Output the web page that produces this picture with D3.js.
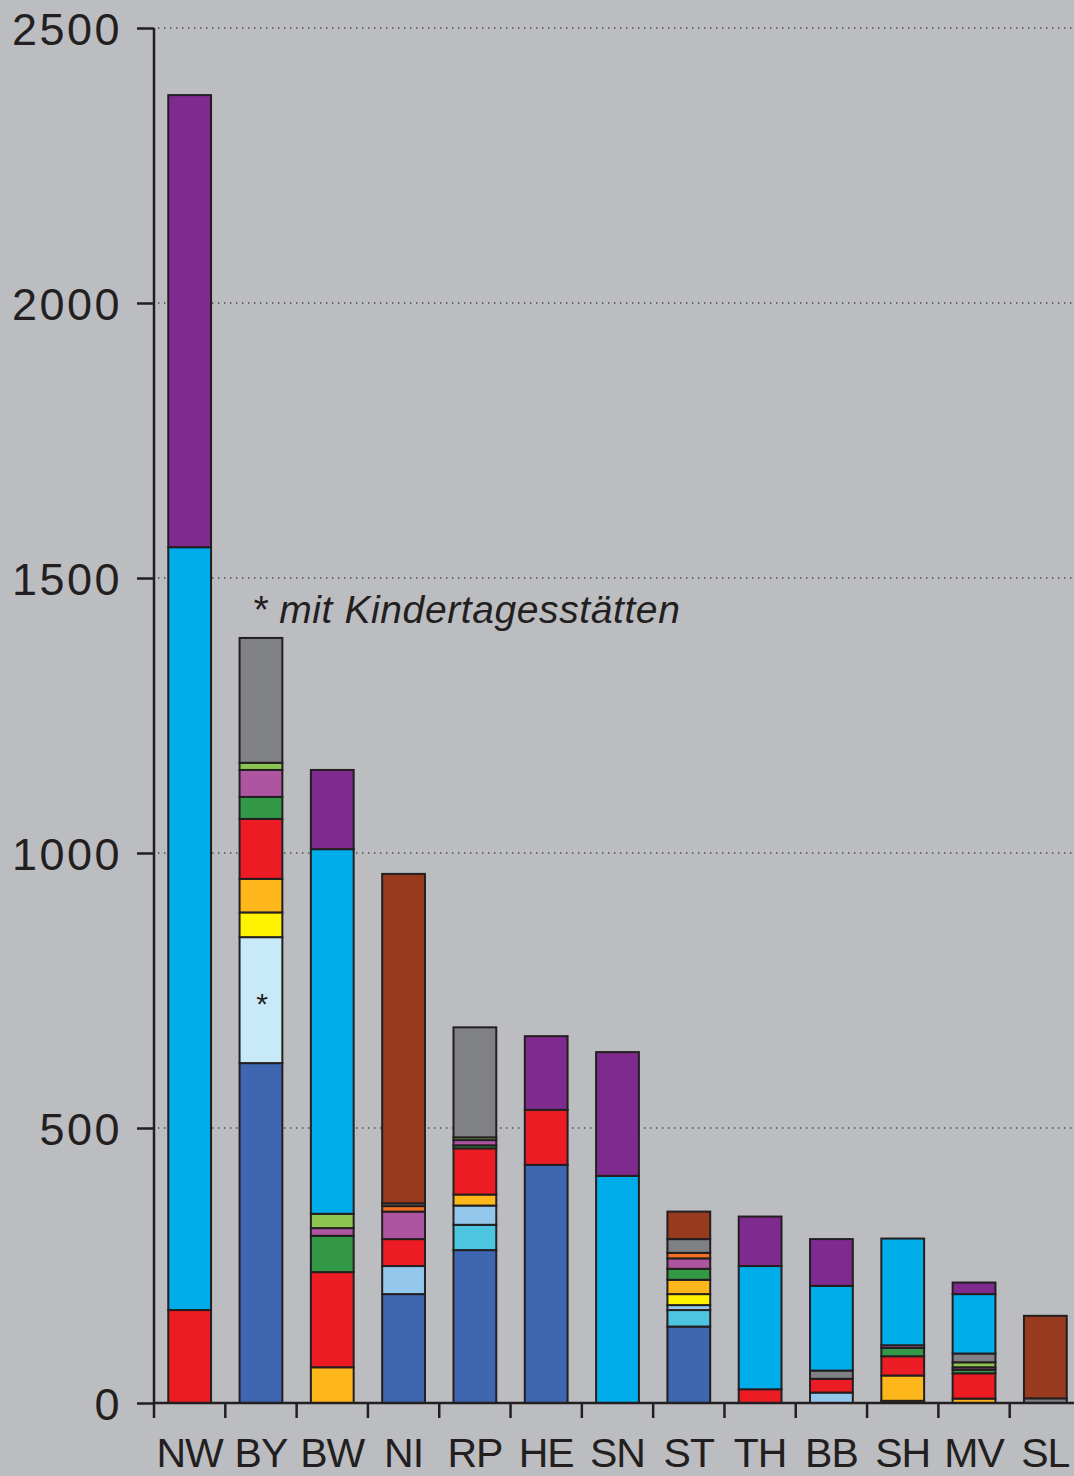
<!DOCTYPE html>
<html><head><meta charset="utf-8">
<script src="https://cdn.jsdelivr.net/npm/d3@7"></script>
<style>
html,body{margin:0;padding:0;background:#bcbdc1;}
svg{display:block;}
text{font-family:"Liberation Sans",Arial,Helvetica,sans-serif;fill:#231f20;}
</style></head>
<body>
<svg id="chart" width="1074" height="1476"></svg>
<script>
const categories = ["NW","BY","BW","NI","RP","HE","SN","ST","TH","BB","SH","MV","SL"];
const yTicks = [0, 500, 1000, 1500, 2000, 2500];
// series values, stacked from bottom in this order
const darkblue   = [0, 618, 0, 198, 278, 433, 0, 139, 0, 0, 0, 0, 0];
const kita       = [0, 229, 0, 0, 0, 0, 0, 0, 0, 0, 0, 0, 0];
const cyanlight  = [0, 0, 0, 0, 46, 0, 0, 30, 0, 0, 0, 0, 0];
const lightblue  = [0, 0, 0, 51, 35, 0, 0, 9, 0, 19, 0, 0, 0];
const yellow     = [0, 45, 0, 0, 0, 0, 0, 20, 0, 0, 4, 0, 0];
const amber      = [0, 61, 65, 0, 20, 0, 0, 26, 0, 0, 46, 8, 0];
const red        = [169, 109, 173, 49, 84, 100, 0, 0, 25, 25, 35, 46, 0];
const green      = [0, 40, 66, 0, 5.5, 0, 0, 20, 0, 0, 15, 6.5, 0];
const pink       = [0, 49, 14, 50, 9.5, 0, 0, 19, 0, 0, 5, 4.5, 0];
const lightgreen = [0, 13, 26, 0, 5, 0, 0, 0, 0, 0, 0, 9, 0];
const orange     = [0, 0, 0, 10, 0, 0, 0, 10, 0, 0, 0, 0, 0];
const gray       = [0, 227, 0, 5, 200, 0, 0, 25, 0, 15, 0, 16, 8.5];
const cyan       = [1387, 0, 663, 0, 0, 0, 413, 0, 224, 154, 194, 108, 0];
const purple     = [822, 0, 144, 0, 0, 134, 225, 0, 90, 85, 0, 21, 0];
const brown      = [0, 0, 0, 599, 0, 0, 0, 50, 0, 0, 0, 0, 150];

const seriesList = [
  {key:"darkblue", values:darkblue, color:"#3f67b1"},
  {key:"kita", values:kita, color:"#c8e9f8"},
  {key:"cyanlight", values:cyanlight, color:"#4dc4e0"},
  {key:"lightblue", values:lightblue, color:"#94c7ec"},
  {key:"yellow", values:yellow, color:"#fff200"},
  {key:"amber", values:amber, color:"#fdb71a"},
  {key:"red", values:red, color:"#ed1c24"},
  {key:"green", values:green, color:"#339947"},
  {key:"pink", values:pink, color:"#ad55a1"},
  {key:"lightgreen", values:lightgreen, color:"#8dc553"},
  {key:"orange", values:orange, color:"#f26f24"},
  {key:"gray", values:gray, color:"#808184"},
  {key:"cyan", values:cyan, color:"#00adeb"},
  {key:"purple", values:purple, color:"#7f2a8e"},
  {key:"brown", values:brown, color:"#973a1e"}
];

const table = categories.map((c,i)=>{
  const row = {cat:c};
  seriesList.forEach(s=>row[s.key]=s.values[i]);
  return row;
});

const svg = d3.select("#chart");
const x = d3.scaleBand().domain(categories).range([154, 1081]).paddingInner(0.4).paddingOuter(0.2);
const y = d3.scaleLinear().domain([0, 2500]).range([1403, 28]);

// gridlines
svg.append("g").selectAll("line").data(yTicks.filter(d=>d>0)).join("line")
  .attr("x1", 158).attr("x2", 1074)
  .attr("y1", d=>y(d)).attr("y2", d=>y(d))
  .attr("stroke", "#4a4a4c").attr("stroke-width", 1.6)
  .attr("stroke-dasharray", "1.4,4.6");

// bars
const stack = d3.stack().keys(seriesList.map(s=>s.key));
const stacked = stack(table);
const colorOf = Object.fromEntries(seriesList.map(s=>[s.key, s.color]));
const gBars = svg.append("g");
stacked.forEach(layer=>{
  gBars.append("g").selectAll("rect")
    .data(layer.filter(d=>d[1]-d[0] > 0))
    .join("rect")
    .attr("x", d=>x(d.data.cat))
    .attr("width", x.bandwidth())
    .attr("y", d=>y(d[1]))
    .attr("height", d=>y(d[0]) - y(d[1]))
    .attr("fill", colorOf[layer.key])
    .attr("stroke", "#231f20").attr("stroke-width", 2);
});

// y axis
const yAxis = d3.axisLeft(y).tickValues(yTicks).tickSize(17).tickPadding(15).tickFormat(d3.format("d"));
const gy = svg.append("g").attr("transform", "translate(154,0)").call(yAxis);
gy.select(".domain").attr("stroke", "#231f20").attr("stroke-width", 2.5).attr("d", "M0,28V1403");
gy.selectAll(".tick line").attr("stroke", "#231f20").attr("stroke-width", 2.5);
gy.selectAll(".tick text").attr("font-size", 45).attr("fill", "#231f20").attr("letter-spacing", 2.5)
  .attr("font-family", "Liberation Sans, Arial, sans-serif").attr("dy", "0.36em");

// x axis
const gx = svg.append("g").attr("transform", "translate(0,1403)");
gx.append("line").attr("x1", 154).attr("x2", 1074).attr("y1", 0).attr("y2", 0)
  .attr("stroke", "#231f20").attr("stroke-width", 2.5);
const boundaries = categories.map(c=>x(c) - x.step()*x.paddingOuter());
gx.selectAll("line.tk").data(boundaries).join("line").attr("class","tk")
  .attr("x1", d=>d).attr("x2", d=>d).attr("y1", 0).attr("y2", 15)
  .attr("stroke", "#231f20").attr("stroke-width", 2.5);
gx.selectAll("text").data(categories).join("text")
  .attr("x", d=>x(d) + x.bandwidth()/2).attr("y", 64)
  .attr("text-anchor", "middle").attr("font-size", 41).attr("letter-spacing", -1)
  .text(d=>d);

// annotation
svg.append("text").attr("x", 252).attr("y", 623)
  .attr("font-size", 39).attr("font-style", "italic").attr("letter-spacing", 0.6)
  .text("* mit Kindertagesstätten");
const byMid = (y(618) + y(618+229))/2;
svg.append("text").attr("x", x("BY") + x.bandwidth()/2).attr("y", byMid + 14)
  .attr("text-anchor", "middle").attr("font-size", 30).attr("font-style", "italic").text("*");
</script>
</body></html>
